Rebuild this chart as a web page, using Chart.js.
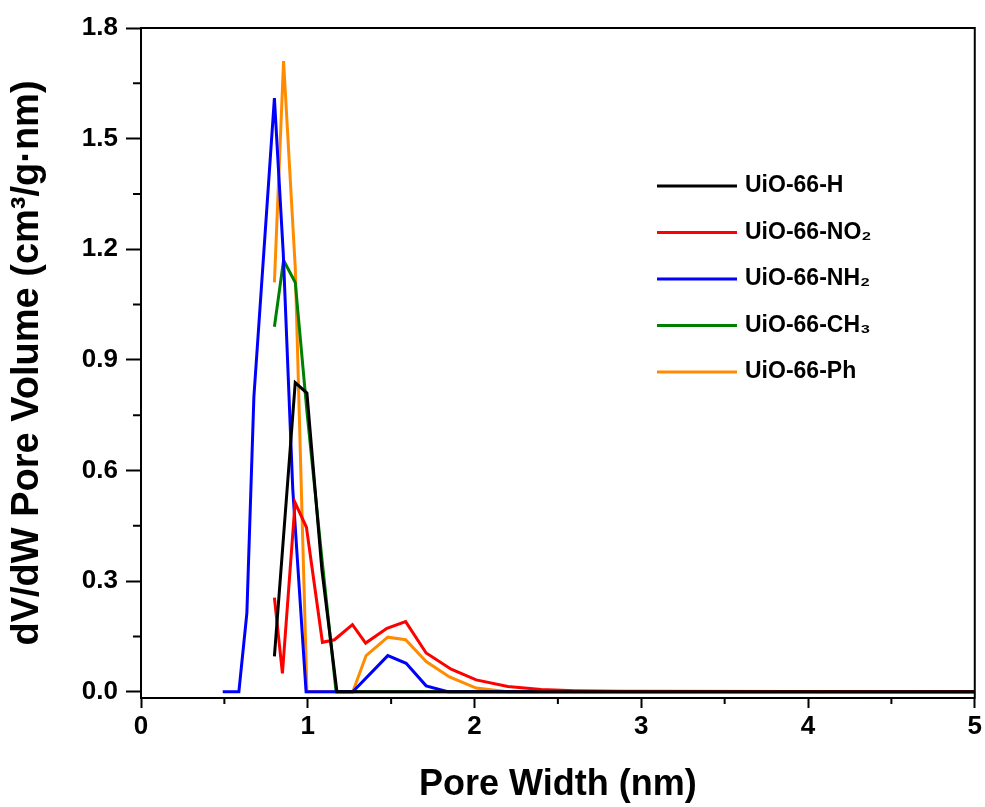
<!DOCTYPE html>
<html>
<head>
<meta charset="utf-8">
<script src="https://cdn.jsdelivr.net/npm/chart.js"></script>
<style>
  body { margin: 0; background: #fff; }
  canvas { display: block; }
</style>
</head>
<body>
<canvas id="psd" width="985" height="807"></canvas>
<script>
// pore size distributions
const seriesNames = ['UiO-66-H', 'UiO-66-NO₂', 'UiO-66-NH₂', 'UiO-66-CH₃', 'UiO-66-Ph'];
const seriesColors = ['#000000', '#ff0000', '#0000ff', '#008000', '#ff8c00'];

const hX = [0.80, 0.925, 0.995, 1.085, 1.175, 5.0];
const hY = [0.096, 0.838, 0.81, 0.33, 0.0, 0.0];

const no2X = [0.80, 0.848, 0.924, 0.992, 1.088, 1.16, 1.268, 1.347, 1.475, 1.587, 1.71, 1.86, 2.01, 2.2, 2.4, 2.6, 2.87, 5.0];
const no2Y = [0.255, 0.05, 0.513, 0.446, 0.134, 0.141, 0.182, 0.132, 0.172, 0.19, 0.105, 0.061, 0.032, 0.014, 0.006, 0.003, 0.001, 0.0];

const nh2X = [0.49, 0.587, 0.635, 0.677, 0.80, 0.853, 0.91, 0.99, 1.27, 1.48, 1.59, 1.71, 1.84, 5.0];
const nh2Y = [0.0, 0.0, 0.214, 0.80, 1.61, 1.19, 0.55, 0.0, 0.0, 0.098, 0.077, 0.016, 0.0, 0.0];

const ch3X = [0.80, 0.855, 0.925, 0.995, 1.085, 1.17, 5.0];
const ch3Y = [0.99, 1.17, 1.11, 0.76, 0.36, 0.0, 0.0];

const phX = [0.80, 0.855, 0.925, 0.995, 1.27, 1.35, 1.48, 1.587, 1.71, 1.85, 2.01, 2.2, 5.0];
const phY = [1.11, 1.71, 1.15, 0.0, 0.0, 0.098, 0.148, 0.141, 0.082, 0.04, 0.01, 0.0, 0.0];

const xTicks = [0, 1, 2, 3, 4, 5];
const xMinor = [0.5, 1.5, 2.5, 3.5, 4.5];
const yTicks = [0, 0.3, 0.6, 0.9, 1.2, 1.5, 1.8];
const yMinor = [0.15, 0.45, 0.75, 1.05, 1.35, 1.65];

const allX = [hX, no2X, nh2X, ch3X, phX];
const allY = [hY, no2Y, nh2Y, ch3Y, phY];

const FONT = "'Liberation Sans', Arial, sans-serif";

const datasets = seriesNames.map((name, i) => ({
    label: name,
    data: allX[i].map((x, j) => ({ x: x, y: allY[i][j] })),
    borderColor: seriesColors[i],
    backgroundColor: seriesColors[i],
    borderWidth: 3,
    pointRadius: 0,
    tension: 0,
    fill: false
}));

// frame, minor ticks and the in-plot legend
const extras = {
    id: 'extras',
    afterDraw(chart) {
        const ctx = chart.ctx;
        const a = chart.chartArea;
        const xs = chart.scales.x, ys = chart.scales.y;
        ctx.save();
        ctx.strokeStyle = '#000';
        ctx.lineWidth = 2;
        ctx.strokeRect(a.left, a.top, a.right - a.left, a.bottom - a.top);

        ctx.beginPath();
        xMinor.forEach(v => {
            const p = xs.getPixelForValue(v);
            ctx.moveTo(p, a.bottom);
            ctx.lineTo(p, a.bottom + 6);
        });
        yMinor.forEach(v => {
            const p = ys.getPixelForValue(v);
            ctx.moveTo(a.left, p);
            ctx.lineTo(a.left - 8, p);
        });
        ctx.stroke();

        ctx.font = 'bold 23px ' + FONT;
        ctx.textBaseline = 'middle';
        ctx.textAlign = 'left';
        chart.data.datasets.forEach((ds, i) => {
            const y = 186 + i * 46.5;
            ctx.strokeStyle = ds.borderColor;
            ctx.lineWidth = 3;
            ctx.beginPath();
            ctx.moveTo(657, y);
            ctx.lineTo(737, y);
            ctx.stroke();
            ctx.fillStyle = '#000';
            ctx.fillText(ds.label, 745, y);
        });
        ctx.restore();
    }
};

new Chart(document.getElementById('psd'), {
    type: 'line',
    data: { datasets: datasets },
    options: {
        responsive: false,
        animation: false,
        devicePixelRatio: 1,
        layout: { padding: { top: 28, right: 9, left: 0, bottom: 0 } },
        plugins: { legend: { display: false }, tooltip: { enabled: false } },
        scales: {
            x: {
                type: 'linear',
                min: 0,
                max: 5,
                afterBuildTicks: (s) => { s.ticks = xTicks.map(v => ({ value: v })); },
                afterFit: (s) => { s.height = 109; },
                grid: { drawOnChartArea: false, tickLength: 10, tickWidth: 2, tickColor: '#000' },
                border: { display: true, width: 2, color: '#000' },
                ticks: {
                    color: '#000',
                    padding: 3,
                    maxRotation: 0,
                    font: { family: FONT, size: 26, weight: 'bold' },
                    callback: (v) => String(v)
                },
                title: {
                    display: true,
                    text: 'Pore Width (nm)',
                    color: '#000',
                    padding: { top: 0, bottom: 0 },
                    font: { family: FONT, size: 36, weight: 'bold' }
                }
            },
            y: {
                type: 'linear',
                min: -0.017,
                max: 1.8,
                afterBuildTicks: (s) => { s.ticks = yTicks.map(v => ({ value: v })); },
                afterFit: (s) => { s.width = 141; },
                grid: { drawOnChartArea: false, tickLength: 15, tickWidth: 2, tickColor: '#000' },
                border: { display: true, width: 2, color: '#000' },
                ticks: {
                    color: '#000',
                    padding: 8,
                    font: { family: FONT, size: 26, weight: 'bold' },
                    callback: (v) => Number(v).toFixed(1)
                },
                title: {
                    display: true,
                    text: 'dV/dW Pore Volume (cm³/g·nm)',
                    color: '#000',
                    padding: { top: 5, bottom: 0 },
                    font: { family: FONT, size: 38, weight: 'bold' }
                }
            }
        }
    },
    plugins: [extras]
});
</script>
</body>
</html>
